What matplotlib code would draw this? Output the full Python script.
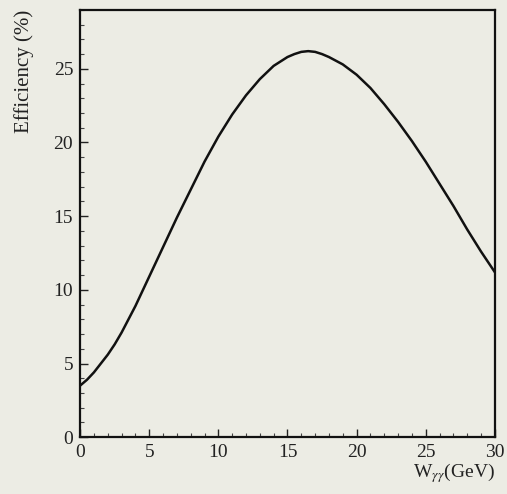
import matplotlib.pyplot as plt
from matplotlib.ticker import MultipleLocator

plt.rcParams['font.family'] = 'Liberation Serif'
plt.rcParams['mathtext.fontset'] = 'stix'

w_gg = [0, 0.5, 1, 1.5, 2, 2.5, 3, 3.5, 4, 5, 6, 7, 8, 9, 10, 11, 12, 13, 14, 15,
        15.5, 16, 16.5, 17, 17.5, 18, 19, 20, 21, 22, 23, 24, 25, 26, 27, 28, 29, 30]
efficiency = [3.5, 3.9, 4.4, 5.0, 5.6, 6.3, 7.1, 8.0, 8.9, 10.9, 12.9, 14.9,
              16.8, 18.7, 20.4, 21.9, 23.2, 24.3, 25.2, 25.8, 26.0, 26.15, 26.2,
              26.15, 26.0, 25.8, 25.3, 24.6, 23.7, 22.6, 21.4, 20.1, 18.7, 17.2,
              15.7, 14.1, 12.6, 11.2]
xticks = [0, 5, 10, 15, 20, 25, 30]
yticks = [0, 5, 10, 15, 20, 25]

bg = '#ecece4'
fig = plt.figure(figsize=(5.07, 4.94), dpi=100, facecolor=bg)
ax = fig.add_axes([0.158, 0.115, 0.818, 0.865], facecolor=bg)

ax.plot(w_gg, efficiency, color='#111111', linewidth=1.8)

ax.set_xlim(0, 30)
ax.set_ylim(0, 29)
ax.set_xticks(xticks)
ax.set_yticks(yticks)
ax.xaxis.set_minor_locator(MultipleLocator(1))
ax.yaxis.set_minor_locator(MultipleLocator(1))
ax.tick_params(which='major', direction='in', length=6, width=1, labelsize=14,
               colors='#222222')
ax.tick_params(axis='x', which='major', pad=5)
ax.tick_params(axis='y', which='major', pad=5)
ax.tick_params(which='minor', direction='in', length=3, width=0.8, colors='#444444')
for s in ax.spines.values():
    s.set_linewidth(1.6)
    s.set_color('#111111')

ax.set_ylabel('Efficiency (%)', loc='top', fontsize=15, color='#222222', labelpad=14)
ax.set_xlabel(r'W$_{\gamma\gamma}$(GeV)', loc='right', fontsize=14, color='#222222', labelpad=0)

fig.savefig('out.png', dpi=100, facecolor=bg)
